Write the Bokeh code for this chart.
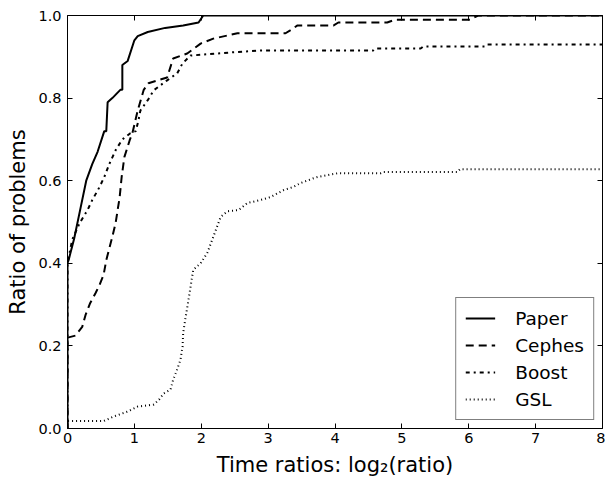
from bokeh.plotting import figure
from bokeh.models import Range1d, FixedTicker, PrintfTickFormatter, LinearAxis, CustomJSTickFormatter
from bokeh.embed import file_html
from bokeh.resources import INLINE

# ---- data ----
paper_x = [0, 0, 0.02, 0.10, 0.19, 0.28, 0.37, 0.45, 0.55, 0.58, 0.60, 0.67, 0.79, 0.82, 0.82,
           0.90, 1.00, 1.05, 1.20, 1.46, 1.73, 1.96, 2.03, 8.0]
paper_y = [0, 0.40, 0.41, 0.46, 0.53, 0.60, 0.64, 0.67, 0.72, 0.72, 0.79, 0.80, 0.82, 0.82, 0.88,
           0.89, 0.94, 0.95, 0.96, 0.97, 0.976, 0.983, 1.0, 1.0]

cephes_x = [0, 0, 0.12, 0.22, 0.27, 0.34, 0.42, 0.48, 0.54, 0.58, 0.67, 0.72, 0.78, 0.81, 0.85,
            0.93, 0.97, 1.05, 1.14, 1.21, 1.49, 1.58, 1.79, 1.99, 2.18, 2.54, 3.26, 3.33, 3.44,
            3.98, 4.05, 4.78, 4.90, 6.02, 6.14, 8.0]
cephes_y = [0, 0.22, 0.225, 0.246, 0.275, 0.304, 0.328, 0.348, 0.372, 0.408, 0.464, 0.498, 0.56,
            0.609, 0.657, 0.698, 0.715, 0.77, 0.82, 0.836, 0.85, 0.896, 0.908, 0.932, 0.944,
            0.957, 0.957, 0.964, 0.976, 0.976, 0.983, 0.983, 0.99, 0.99, 1.0, 1.0]

boost_x = [0, 0, 0.07, 0.18, 0.30, 0.37, 0.48, 0.55, 0.63, 0.72, 0.82, 0.94, 1.02, 1.06, 1.09,
           1.20, 1.29, 1.49, 1.64, 1.72, 1.84, 2.48, 2.88, 4.57, 4.60, 5.28, 5.32, 6.25, 6.28, 8.0]
boost_y = [0, 0.40, 0.457, 0.497, 0.529, 0.553, 0.585, 0.609, 0.642, 0.674, 0.70, 0.715, 0.72,
           0.745, 0.77, 0.795, 0.819, 0.843, 0.86, 0.884, 0.903, 0.911, 0.915, 0.915, 0.92, 0.92,
           0.925, 0.925, 0.93, 0.93]

gsl_x = [0, 0, 0.54, 0.69, 0.90, 1.05, 1.29, 1.37, 1.44, 1.54, 1.58, 1.64, 1.69, 1.72, 1.73,
         1.76, 1.81, 1.88, 1.99, 2.09, 2.18, 2.29, 2.39, 2.56, 2.69, 2.88, 3.03, 3.23, 3.38,
         3.48, 3.68, 3.74, 4.04, 4.68, 4.72, 5.83, 5.87, 8.0]
gsl_y = [0, 0.018, 0.018, 0.029, 0.041, 0.053, 0.058, 0.07, 0.085, 0.094, 0.118, 0.143, 0.167,
         0.198, 0.232, 0.263, 0.312, 0.384, 0.40, 0.425, 0.464, 0.512, 0.526, 0.529, 0.546,
         0.553, 0.56, 0.577, 0.585, 0.594, 0.606, 0.609, 0.618, 0.618, 0.621, 0.621, 0.628, 0.628]

x_ticks = [0, 1, 2, 3, 4, 5, 6, 7, 8]
y_ticks = [0.0, 0.2, 0.4, 0.6, 0.8, 1.0]

FONT = "DejaVu Sans"

p = figure(width=605, height=479, output_backend="svg", toolbar_location=None,
           x_range=Range1d(0, 8), y_range=Range1d(0, 1),
           min_border_left=67, min_border_right=3, min_border_top=15, min_border_bottom=50)
p.grid.visible = False
p.outline_line_color = "black"
p.outline_line_width = 1
p.background_fill_color = "white"
p.border_fill_color = "white"

lw = 2
p.line(paper_x, paper_y, line_color="black", line_width=lw, legend_label="Paper")
p.line(cephes_x, cephes_y, line_color="black", line_width=lw, line_dash="8 5", legend_label="Cephes")
p.line(boost_x, boost_y, line_color="black", line_width=lw, line_dash="4 4 2 4", legend_label="Boost")
p.line(gsl_x, gsl_y, line_color="black", line_width=lw, line_dash="1 3", legend_label="GSL")


def style_axis(ax, ticks, show_labels):
    ax.ticker = FixedTicker(ticks=ticks)
    ax.minor_tick_line_color = None
    ax.major_tick_in = 5
    ax.major_tick_out = 0
    ax.major_tick_line_color = "black"
    ax.axis_line_color = None
    if show_labels:
        ax.major_label_text_font = FONT
        ax.major_label_text_font_size = "14.5px"
        ax.major_label_text_color = "black"
    else:
        ax.formatter = CustomJSTickFormatter(code="return ''")
        ax.major_label_standoff = 0


xa = p.xaxis[0]
ya = p.yaxis[0]
style_axis(xa, x_ticks, True)
style_axis(ya, y_ticks, True)
ya.formatter = PrintfTickFormatter(format="%.1f")
xa.major_label_standoff = 4
ya.major_label_standoff = 6
for ax, lab in ((ya, "Ratio of problems"), (xa, "Time ratios: log\u2082(ratio)")):
    ax.axis_label = lab
    ax.axis_label_text_font = FONT
    ax.axis_label_text_font_size = "21px"
    ax.axis_label_text_font_style = "normal"
    ax.axis_label_text_color = "black"
ya.axis_label_standoff = 5
xa.axis_label_standoff = 7

top = LinearAxis()
style_axis(top, x_ticks, False)
p.add_layout(top, "above")
right = LinearAxis()
style_axis(right, y_ticks, False)
p.add_layout(right, "right")

lg = p.legend[0]
lg.location = "bottom_right"
lg.margin = 8
lg.padding = 9
lg.spacing = 5
lg.label_height = 22
lg.glyph_height = 22
lg.glyph_width = 30
lg.label_standoff = 20
lg.label_text_font = FONT
lg.label_text_font_size = "18.5px"
lg.label_text_color = "black"
lg.border_line_color = "black"
lg.border_line_width = 1
lg.background_fill_alpha = 1

open("out.html", "w").write(file_html(p, INLINE))
